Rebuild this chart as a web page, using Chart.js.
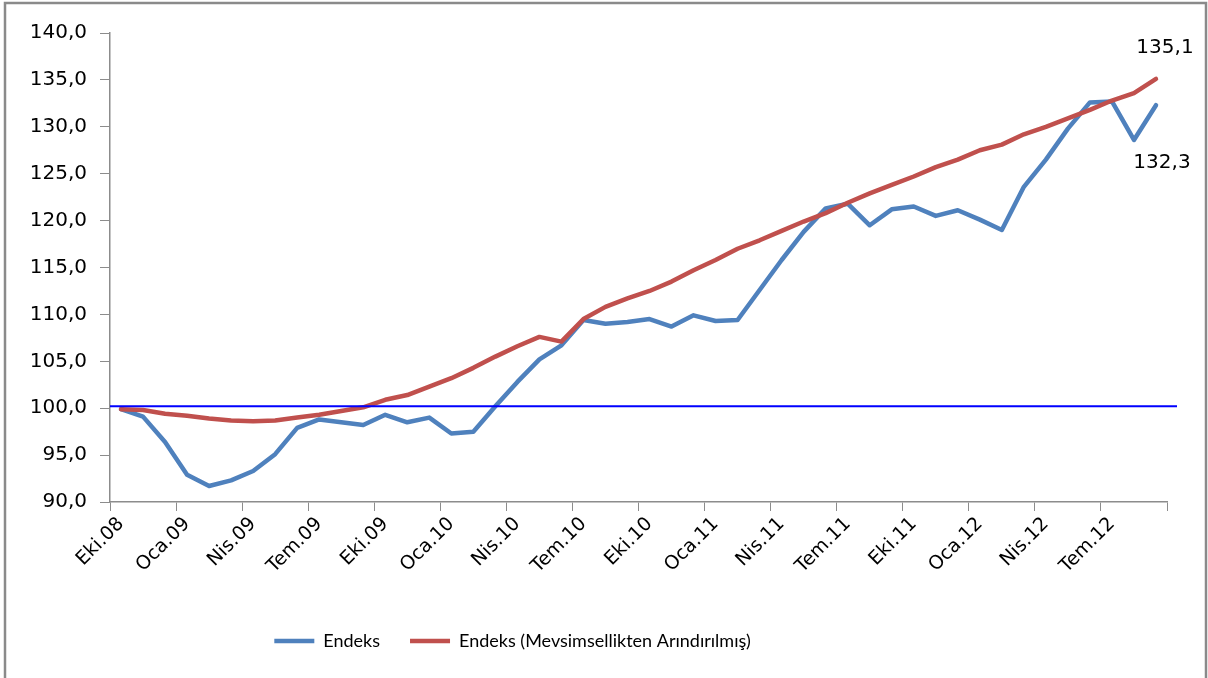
<!DOCTYPE html>
<html>
<head>
<meta charset="utf-8">
<script src="https://cdn.jsdelivr.net/npm/chart.js@4/dist/chart.umd.min.js"></script>
<style>
html, body { margin: 0; padding: 0; background: #fff; }
</style>
</head>
<body>
<canvas id="myChart" width="1208" height="678"></canvas>
<script>
// aylar: Eki.08 - Eyl.12
var months = [
  'Eki.08','Kas.08','Ara.08','Oca.09','Şub.09','Mar.09','Nis.09','May.09','Haz.09','Tem.09','Ağu.09','Eyl.09',
  'Eki.09','Kas.09','Ara.09','Oca.10','Şub.10','Mar.10','Nis.10','May.10','Haz.10','Tem.10','Ağu.10','Eyl.10',
  'Eki.10','Kas.10','Ara.10','Oca.11','Şub.11','Mar.11','Nis.11','May.11','Haz.11','Tem.11','Ağu.11','Eyl.11',
  'Eki.11','Kas.11','Ara.11','Oca.12','Şub.12','Mar.12','Nis.12','May.12','Haz.12','Tem.12','Ağu.12','Eyl.12'
]
var endeks = [
  99.9, 99.1, 96.4, 92.9, 91.7, 92.3, 93.3, 95.1, 97.9, 98.8, 98.5, 98.2,
  99.3, 98.5, 99.0, 97.3, 97.5, 100.2, 102.8, 105.2, 106.7, 109.4, 109.0, 109.2,
  109.5, 108.7, 109.9, 109.3, 109.4, 112.6, 115.8, 118.8, 121.3, 121.8, 119.5, 121.2,
  121.5, 120.5, 121.1, 120.1, 119.0, 123.6, 126.5, 129.8, 132.6, 132.7, 128.6, 132.3
]
var endeksMa = [
  99.9, 99.8, 99.4, 99.2, 98.9, 98.7, 98.6, 98.7, 99.0, 99.3, 99.7, 100.1,
  100.9, 101.4, 102.3, 103.2, 104.3, 105.5, 106.6, 107.6, 107.1, 109.5, 110.8, 111.7,
  112.5, 113.5, 114.7, 115.8, 117.0, 117.9, 118.9, 119.9, 120.8, 121.9, 122.9, 123.8,
  124.7, 125.7, 126.5, 127.5, 128.1, 129.2, 130.0, 130.9, 131.8, 132.8, 133.6, 135.1
]
var seriesNames = ['Endeks', 'Endeks (Mevsimsellikten Arındırılmış)']
var refLevel = 100.2
var yMin = 90, yMax = 140, yStep = 5

var axisGray = '#8c8c8c'
var axisFont = '"DejaVu Sans", sans-serif'
var legendFont = 'Lato, "Open Sans", sans-serif'

const fmt = v => Number(v).toFixed(1).replace('.', ',')

// cerceve
const framePlugin = {
  id: 'frame',
  afterDraw(chart) {
    const c = chart.ctx
    c.save()
    c.strokeStyle = '#8a8a8a'
    c.lineWidth = 2.5
    c.strokeRect(5, 3, chart.width - 7, chart.height + 20)
    c.restore()
  }
}

// lejant excel'deki gibi biraz solda
const legendShiftPlugin = {
  id: 'legendShift',
  afterLayout(chart) {
    chart.legend.left -= 71
    chart.legend.right -= 71
  }
}

// 100 seviyesi mavi cizgi
const refLinePlugin = {
  id: 'refLine',
  afterDatasetsDraw(chart) {
    const c = chart.ctx
    const y = chart.scales.y.getPixelForValue(refLevel)
    c.save()
    c.strokeStyle = '#0000ff'
    c.lineWidth = 2
    c.beginPath()
    c.moveTo(chart.chartArea.left, y)
    c.lineTo(chart.chartArea.right + 10, y)
    c.stroke()
    c.restore()
  }
}

// son deger etiketleri
const lastLabelPlugin = {
  id: 'lastLabel',
  afterDatasetsDraw(chart) {
    const c = chart.ctx
    const offs = [[6, 58], [9, -31]]
    c.save()
    c.font = '20px ' + axisFont
    c.fillStyle = '#000'
    c.textAlign = 'center'
    c.textBaseline = 'middle'
    chart.data.datasets.forEach((ds, i) => {
      const meta = chart.getDatasetMeta(i)
      const last = meta.data[meta.data.length - 1]
      c.fillText(fmt(ds.data[ds.data.length - 1]), last.x + offs[i][0], last.y + offs[i][1])
    })
    c.restore()
  }
}

const data = {
  labels: months,
  datasets: [
    {
      label: seriesNames[0],
      data: endeks,
      borderColor: '#4F81BD',
      backgroundColor: '#4F81BD',
      borderWidth: 4.5,
      pointRadius: 0,
      tension: 0,
      borderJoinStyle: 'round',
      borderCapStyle: 'round',
      order: 1
    },
    {
      label: seriesNames[1],
      data: endeksMa,
      borderColor: '#C0504D',
      backgroundColor: '#C0504D',
      borderWidth: 4.5,
      pointRadius: 0,
      tension: 0,
      borderJoinStyle: 'round',
      borderCapStyle: 'round',
      order: 0
    }
  ]
}

const config = {
  type: 'line',
  data: data,
  options: {
    responsive: false,
    animation: false,
    layout: { padding: { top: 33, right: 41, bottom: 18, left: 0 } },
    plugins: {
      tooltip: { enabled: false },
      legend: {
        position: 'bottom',
        labels: {
          usePointStyle: true,
          pointStyle: 'line',
          pointStyleWidth: 40,
          color: '#000',
          font: { family: legendFont, size: 18 },
          padding: 30,
          sort: (a, b) => a.datasetIndex - b.datasetIndex
        }
      }
    },
    scales: {
      x: {
        offset: true,
        grid: {
          offset: true,
          drawOnChartArea: false,
          tickLength: 9,
          color: ctx => (ctx.index === undefined || ctx.index % 3 === 0) ? axisGray : 'rgba(0,0,0,0)'
        },
        border: { color: axisGray, width: 1.5 },
        ticks: {
          autoSkip: false,
          maxRotation: 45,
          minRotation: 45,
          padding: 2,
          color: '#000',
          font: { family: axisFont, size: 19 },
          callback: function (v, i) { return i % 3 === 0 ? this.getLabelForValue(v) : '' }
        },
        afterFit: s => { s.height = s.chart.height - 18 - s.chart.legend.height - 502 }
      },
      y: {
        min: yMin,
        max: yMax,
        grid: { drawOnChartArea: false, tickLength: 10, color: axisGray },
        border: { color: axisGray, width: 1.5 },
        ticks: {
          stepSize: yStep,
          padding: 13,
          color: '#000',
          font: { family: axisFont, size: 20 },
          callback: v => fmt(v)
        },
        afterFit: s => { s.width = 110 }
      }
    }
  },
  plugins: [framePlugin, legendShiftPlugin, refLinePlugin, lastLabelPlugin]
}

var myLineChart = new Chart('myChart', config)
</script>
</body>
</html>
